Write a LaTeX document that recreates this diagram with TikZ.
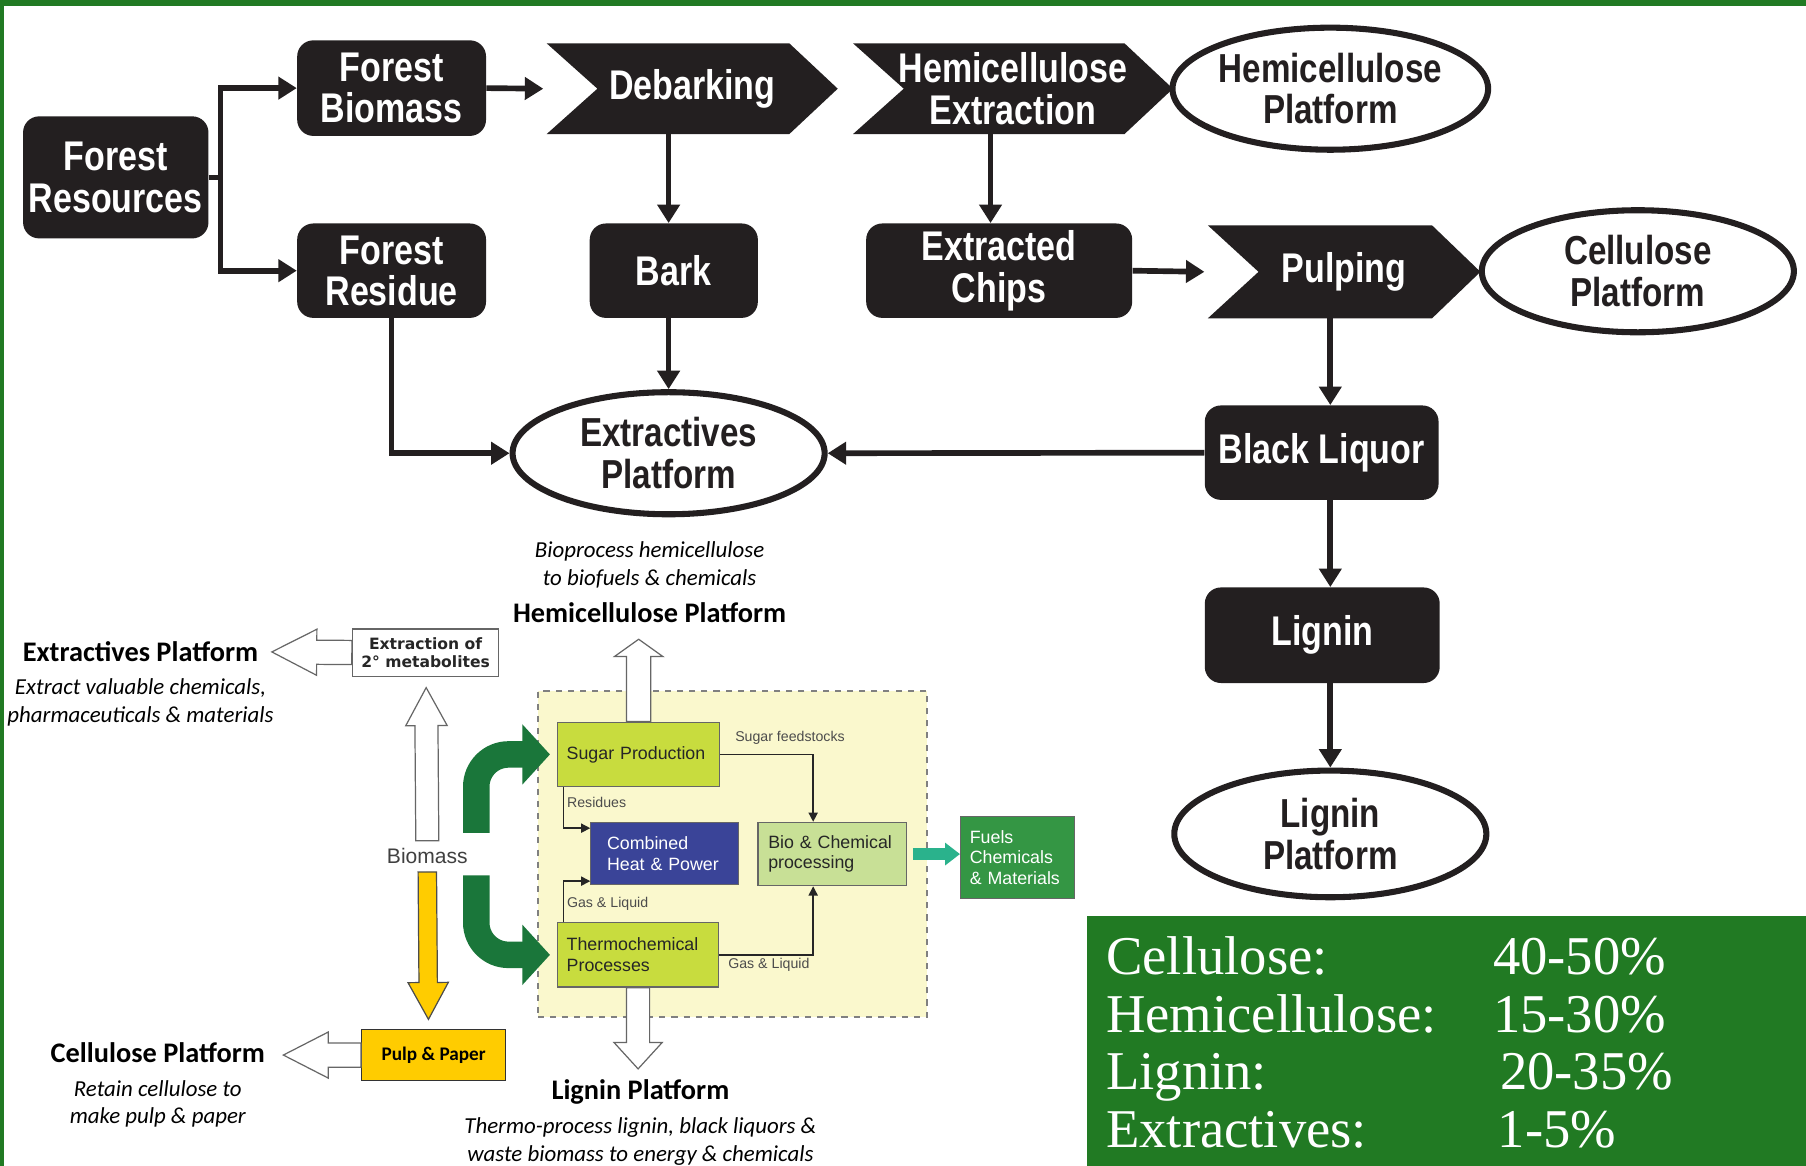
\documentclass[tikz,border=0pt]{standalone}
\usepackage{fontspec}
\setmainfont{Liberation Sans}
\newfontfamily\narrowfont[FakeStretch=0.82]{Liberation Sans}
\newfontfamily\calfont{Carlito}
\newfontfamily\verdfont{DejaVu Sans}
\newfontfamily\statfont{Liberation Serif}
\usepackage{xcolor}
\usetikzlibrary{shapes.geometric, arrows.meta, positioning, calc, backgrounds}
\definecolor{frameGreen}{RGB}{33,122,35}
\definecolor{boxBlack}{RGB}{35,31,32}
\definecolor{arrGreen}{RGB}{26,118,58}
\definecolor{fuelGreen}{RGB}{52,150,68}
\definecolor{sugarGreen}{RGB}{200,220,62}
\definecolor{bioGreen}{RGB}{200,224,150}
\definecolor{chpBlue}{RGB}{58,68,152}
\definecolor{procYellow}{RGB}{250,248,205}
\definecolor{pulpYellow}{RGB}{255,204,0}
\definecolor{tealArr}{RGB}{42,178,140}
\definecolor{lineGray}{RGB}{110,110,110}
\tikzset{
  blackbox/.style={rectangle, rounded corners=0.28cm, fill=boxBlack, text=white, align=center, inner sep=0pt, font=\narrowfont\bfseries\fontsize{20.5}{20.5}\selectfont},
  chevtext/.style={rectangle, text=white, align=center, inner sep=0pt, font=\narrowfont\bfseries\fontsize{20.5}{20.5}\selectfont},
  platform/.style={ellipse, draw=boxBlack, line width=3pt, fill=white, text=boxBlack, align=center, inner sep=0pt, minimum width=5.42cm, minimum height=2.12cm, font=\narrowfont\bfseries\fontsize{20}{20.5}\selectfont},
  arrow/.style={draw=boxBlack, line width=2.8pt, -{Triangle[length=0.32cm, width=0.38cm]}},
  dashbox/.style={rectangle, draw=gray, dashed, line width=0.7pt, fill=procYellow},
  procbox/.style={rectangle, draw=black!60, line width=0.6pt, align=left, inner xsep=0.16cm, inner ysep=0pt, text=black!85, font=\fontsize{8.8}{10.2}\selectfont},
  thinarrow/.style={draw=black!85, line width=0.7pt, -{Triangle[length=0.16cm, width=0.16cm]}},
  conlabel/.style={font=\fontsize{7}{8}\selectfont, text=black!70, anchor=west, inner sep=0pt},
  hollow/.style={draw=black!60, fill=white, line width=0.6pt},
  garrow/.style={draw=arrGreen, line width=0.46cm, -{Triangle[length=0.48cm, width=1.02cm]}},
  tarrow/.style={draw=tealArr, line width=0.22cm, -{Triangle[length=0.26cm, width=0.38cm]}},
  plathead/.style={font=\calfont\bfseries\fontsize{14}{16}\selectfont, inner sep=0pt},
  platdesc/.style={font=\calfont\itshape\fontsize{11.3}{13.6}\selectfont, align=center, inner sep=0pt},
}
% block arrow: [style]{from}{to}{shaft half width}{head half width}{head length}
\newcommand{\blockarr}[6][]{%
  \coordinate (ba-s) at (#2);
  \coordinate (ba-t) at (#3);
  \coordinate (ba-h) at ($(ba-t)!#6!(ba-s)$);
  \draw[#1] ($(ba-s)!#4!90:(ba-t)$) -- ($(ba-h)!#4!90:(ba-t)$) -- ($(ba-h)!#5!90:(ba-t)$) -- (ba-t)
    -- ($(ba-h)!#5!-90:(ba-t)$) -- ($(ba-h)!#4!-90:(ba-t)$) -- ($(ba-s)!#4!-90:(ba-t)$) -- cycle;
}
\begin{document}
\begin{tikzpicture}[x=0.02cm, y=-0.02cm]
  \useasboundingbox (0,0) rectangle (1568,1012);
  \begin{scope}[on background layer]
    \fill[white] (0,0) rectangle (1568,1012);
  \end{scope}

  % Frame
  \fill[frameGreen] (0,0) rectangle (1568,5);
  \fill[frameGreen] (0,0) rectangle (3.5,1012);

  % Top flow chart
  \node[blackbox, minimum width=3.22cm, minimum height=2.12cm] (fres) at (100.5,154) {Forest\\Resources};
  \node[blackbox, minimum width=3.28cm, minimum height=1.66cm] (fbio) at (340,76.5) {Forest\\Biomass};
  \node[blackbox, minimum width=3.28cm, minimum height=1.64cm] (fresid) at (340,235) {Forest\\Residue};
  \node[chevtext, minimum width=5.04cm, minimum height=1.56cm] (deb) at (601,77) {Debarking};
  \node[chevtext, minimum width=5.54cm, minimum height=1.56cm] (hemx) at (879.5,77) {Hemicellulose\\Extraction};
  \node[platform] (hemp) at (1155,77) {Hemicellulose\\Platform};
  \node[blackbox, minimum width=2.92cm, minimum height=1.64cm] (bark) at (585,235) {Bark};
  \node[blackbox, minimum width=4.62cm, minimum height=1.64cm] (chips) at (867.5,235) {Extracted\\Chips};
  \node[chevtext, minimum width=4.72cm, minimum height=1.6cm] (pulp) at (1167,236) {Pulping};
  \node[platform] (celp) at (1422,235.5) {Cellulose\\Platform};
  \node[platform] (extr) at (580.5,393.5) {Extractives\\Platform};
  \node[blackbox, minimum width=4.06cm, minimum height=1.64cm] (bliq) at (1147.5,393) {Black Liquor};
  \node[blackbox, minimum width=4.08cm, minimum height=1.66cm] (lig) at (1148,551.5) {Lignin};
  \node[platform, minimum height=2.2cm] (ligp) at (1155,724) {Lignin\\Platform};

  % Chevron outlines
  \begin{scope}[on background layer]
    \foreach \c in {deb,hemx,pulp} {
      \fill[boxBlack] (\c.north west) -- ([xshift=-0.84cm]\c.north east) -- (\c.east)
        -- ([xshift=-0.84cm]\c.south east) -- (\c.south west) -- ([xshift=0.88cm]\c.west) -- cycle;
    }
  \end{scope}

  % Connections
  \draw[arrow] (fres.east) -- ++(10,0) |- (fbio.west);
  \draw[arrow] (fres.east) -- ++(10,0) |- (fresid.west);
  \draw[arrow] (fbio.east) -- ([xshift=-0.06cm]deb.west);
  \draw[arrow] (deb.south -| extr.north) -- (bark.north -| extr.north);
  \draw[arrow] (bark.south -| extr.north) -- (extr.north);
  \draw[arrow] (fresid.south) |- (extr.west);
  \draw[arrow] ([xshift=-0.39cm]hemx.south) -- ([xshift=-0.39cm]hemx.south |- chips.north);
  \draw[arrow] (chips.east) -- ([xshift=-0.06cm]pulp.west);
  \draw[arrow] (pulp.south -| ligp.north) -- (bliq.north -| ligp.north);
  \draw[arrow] (bliq.west) -- (extr.east);
  \draw[arrow] (bliq.south -| ligp.north) -- (lig.north -| ligp.north);
  \draw[arrow] (lig.south -| ligp.north) -- (ligp.north);

  % Biorefinery scheme
  \node[dashbox, minimum width=6.76cm, minimum height=5.66cm] (proc) at (636,741.5) {};
  \node[procbox, fill=sugarGreen, text width=2.5cm, minimum height=1.12cm] (sugar) at (554.5,655) {Sugar Production};
  \node[procbox, fill=sugarGreen, text width=2.48cm, minimum height=1.12cm] (thermo) at (554,829) {Thermochemical\\Processes};
  \node[procbox, fill=chpBlue, text=white, inner xsep=0.28cm, text width=2.0cm, minimum height=1.08cm] (chp) at (577,741) {Combined\\Heat \& Power};
  \node[procbox, fill=bioGreen, inner xsep=0.18cm, text width=2.22cm, minimum height=1.1cm] (bioc) at (722.5,741.5) {Bio \& Chemical\\processing};
  \node[procbox, fill=fuelGreen, text=white, text width=1.66cm, minimum height=1.42cm] (fuels) at (883.5,744.5) {Fuels\\Chemicals\\\& Materials};

  \draw[thinarrow] (sugar.east) -| ([xshift=-0.33cm]bioc.north);
  \draw[thinarrow] (thermo.east) -| ([xshift=-0.33cm]bioc.south);
  \draw[thinarrow] ([xshift=0.12cm]sugar.south west) |- ([yshift=0.44cm]chp.west);
  \draw[thinarrow] ([xshift=0.12cm]thermo.north west) |- ([yshift=-0.48cm]chp.west);
  \node[conlabel] (lsug) at (638,641) {Sugar feedstocks};
  \node[conlabel] (lres) at (492,697) {Residues};
  \node[conlabel] (lgas1) at (492,785) {Gas \& Liquid};
  \node[conlabel] (lgas2) at (632,838) {Gas \& Liquid};
  \draw[tarrow] ([xshift=0.1cm]bioc.east) -- (fuels.west |- bioc.east);

  % Biomass and its routes
  \node[font=\fontsize{10.4}{12}\selectfont, text=black!75, inner sep=0pt] (biom) at (371,743) {Biomass};
  \node[draw=black!60, fill=white, line width=0.6pt, align=center, inner sep=0pt, minimum width=2.54cm, minimum height=0.82cm, text=black!85, font=\verdfont\bfseries\fontsize{7.7}{9.2}\selectfont] (extm) at (369.5,566.5) {Extraction of\\2\textdegree{} metabolites};
  \node[draw=black!80, fill=pulpYellow, line width=0.6pt, inner sep=0pt, minimum width=2.5cm, minimum height=0.88cm, font=\calfont\bfseries\fontsize{9.5}{11}\selectfont] (pulpb) at (376.5,916) {Pulp \& Paper};

  \coordinate (gup) at (413.5,723);
  \coordinate (gdn) at (413.5,760);
  \draw[garrow] (gup) -- ++(0,-40) arc[start angle=180, end angle=90, radius=0.56cm] -- ([xshift=-0.12cm]sugar.west);
  \draw[garrow] (gdn) -- ++(0,41) arc[start angle=180, end angle=270, radius=0.56cm] -- ([xshift=-0.12cm]thermo.west);

  % Platform labels
  \node[plathead] (exlab) at (122,566) {Extractives Platform};
  \node[platdesc, below=0.28cm of exlab] (exdesc) {Extract valuable chemicals,\\pharmaceuticals \& materials};
  \node[plathead] (hemlab) at (564,532) {Hemicellulose Platform};
  \node[platdesc, above=0.24cm of hemlab] (hemdesc) {Bioprocess hemicellulose\\to biofuels \& chemicals};
  \node[plathead] (cellab) at (137,914) {Cellulose Platform};
  \node[platdesc, below=0.29cm of cellab] (celdesc) {Retain cellulose to\\make pulp \& paper};
  \node[plathead] (liglab) at (556,948) {Lignin Platform};
  \node[platdesc, below=0.22cm of liglab] (ligdesc) {Thermo-process lignin, black liquors \&\\waste biomass to energy \& chemicals};

  \coordinate (extip) at (236,566);
  \coordinate (uptip) at (370,597);
  \coordinate (pulptip) at (372,885);
  \coordinate (celtip) at (246,916);
  \coordinate (hemtip) at (554.5,555);
  \coordinate (ligtip) at (554,928);
  \blockarr[hollow]{extm.west}{extip}{0.21cm}{0.4cm}{0.78cm}
  \blockarr[hollow]{[yshift=0.12cm]biom.north}{uptip}{0.2cm}{0.36cm}{0.66cm}
  \blockarr[draw=black!70, fill=pulpYellow, line width=0.6pt]{[yshift=-0.14cm]biom.south}{pulptip}{0.16cm}{0.35cm}{0.64cm}
  \blockarr[hollow]{pulpb.west}{celtip}{0.21cm}{0.4cm}{0.78cm}
  \blockarr[hollow]{sugar.north}{hemtip}{0.21cm}{0.42cm}{0.3cm}
  \blockarr[hollow]{thermo.south}{ligtip}{0.2cm}{0.42cm}{0.46cm}

  % Composition
  \node[fill=frameGreen, minimum width=12.48cm, minimum height=4.34cm, inner sep=0pt] (stats) at (1256,903.5) {};
  \foreach \nm/\val/\yy/\vx [count=\i] in {Cellulose:/40-50\%/846/1296, Hemicellulose:/15-30\%/896/1296, Lignin:/20-35\%/946/1302, Extractives:/1-5\%/996/1300} {
    \node[anchor=base west, inner sep=0pt, text=white, font=\statfont\fontsize{27}{30}\selectfont] (cn\i) at (960,\yy) {\nm};
    \node[anchor=base west, inner sep=0pt, text=white, font=\statfont\fontsize{27}{30}\selectfont] (cv\i) at (\vx,\yy) {\val};
  }
\end{tikzpicture}
\end{document}
